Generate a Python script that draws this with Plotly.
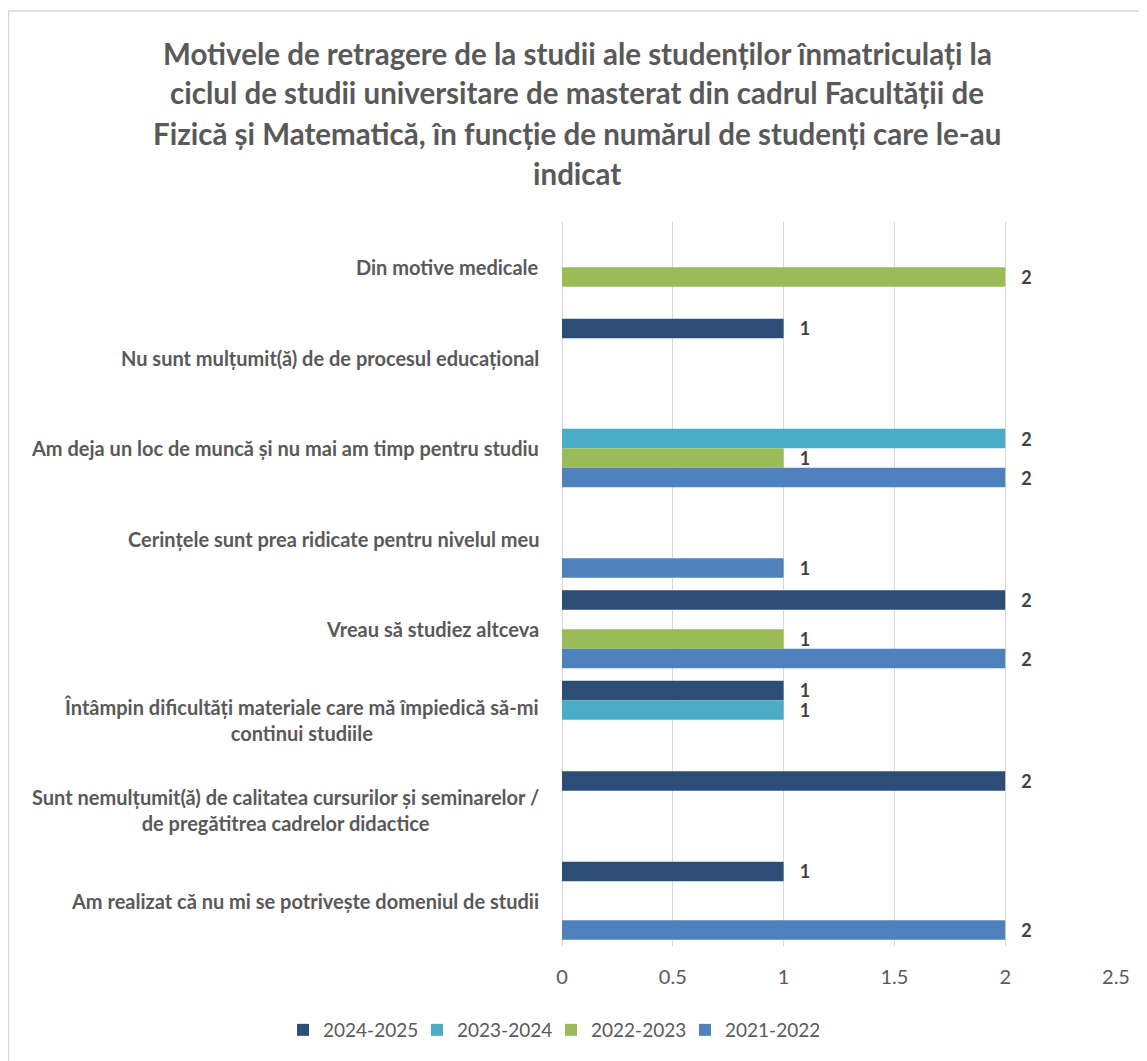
import plotly.graph_objects as go

categories = [
    "Din motive medicale",
    "Nu sunt mulțumit(ă) de de procesul educațional",
    "Am deja un loc de muncă și nu mai am timp pentru studiu",
    "Cerințele sunt prea ridicate pentru nivelul meu",
    "Vreau să studiez altceva",
    "Întâmpin dificultăți materiale care mă împiedică să-mi<br>continui studiile",
    "Sunt nemulțumit(ă) de calitatea cursurilor și seminarelor /<br>de pregătitrea cadrelor didactice",
    "Am realizat că nu mi se potrivește domeniul de studii",
]

series_names = ["2024-2025", "2023-2024", "2022-2023", "2021-2022"]
v_2024_2025 = [0, 1, 0, 0, 2, 1, 2, 1]
v_2023_2024 = [0, 0, 2, 0, 0, 1, 0, 0]
v_2022_2023 = [2, 0, 1, 0, 1, 0, 0, 0]
v_2021_2022 = [0, 0, 2, 1, 2, 0, 0, 2]

x_ticks = [0, 0.5, 1, 1.5, 2, 2.5]

colors = ["#2C4D75", "#4BACC6", "#9BBB59", "#4F81BD"]
series_values = [v_2024_2025, v_2023_2024, v_2022_2023, v_2021_2022]

FONT = "Lato"
GRAY = "#595959"

# page body has an 8px margin; work in reference pixel coords and shift
OFF = 8
W, H = 1147 - OFF, 1061 - OFF
ML, MR, MT, MB = 562 - OFF, 31, 222 - OFF, 115
PW, PH = W - ML - MR, H - MT - MB


def px_x(p):
    return (p - OFF - ML) / PW


def px_y(p):
    return (H - MB - (p - OFF)) / PH


fig = go.Figure()
for name, vals, col in zip(series_names, series_values, colors):
    fig.add_trace(go.Bar(
        name=name,
        orientation="h",
        y=categories,
        x=[v if v else None for v in vals],
        text=["\u00a0\u00a0\u00a0" + str(v) if v else "" for v in vals],
        textposition="outside",
        constraintext="none",
        cliponaxis=False,
        textfont=dict(family=FONT, size=18, color="#404040", weight="bold"),
        marker=dict(color=col, line=dict(width=0)),
        hoverinfo="skip",
    ))

annotations = []
for c in categories:
    annotations.append(dict(
        xref="paper", yref="y", x=0, y=c, xanchor="right", yanchor="middle",
        xshift=-21, text="<b>" + c + "</b>", showarrow=False, align="center",
        font=dict(family=FONT, size=20, color=GRAY),
    ))

title_lines = [
    "Motivele de retragere de la studii ale studenților înmatriculați la",
    "ciclul de studii universitare de masterat din cadrul Facultății de",
    "Fizică și Matematică, în funcție de numărul de studenți care le-au",
    "indicat",
]
for i, t in enumerate(title_lines):
    annotations.append(dict(
        xref="paper", yref="paper", x=px_x(577), y=px_y(53 + 40 * i),
        xanchor="center", yanchor="middle", text="<b>" + t + "</b>",
        showarrow=False, font=dict(family=FONT, size=29.5, color=GRAY),
    ))

fig.update_layout(
    width=W, height=H,
    margin=dict(l=ML, r=MR, t=MT, b=MB, autoexpand=False),
    paper_bgcolor="white", plot_bgcolor="white",
    barmode="group", bargap=0.138, bargroupgap=0,
    font=dict(family=FONT, color=GRAY),
    showlegend=True,
    legend=dict(
        orientation="h", x=px_x(283), xanchor="left",
        y=px_y(1030), yanchor="middle",
        font=dict(family=FONT, size=19, color=GRAY), traceorder="normal",
        itemwidth=30, bgcolor="rgba(0,0,0,0)",
        entrywidth=89, entrywidthmode="pixels",
    ),
    annotations=annotations,
    shapes=[dict(
        type="rect", xref="paper", yref="paper",
        x0=px_x(8.5), x1=px_x(1200), y0=px_y(1100), y1=px_y(11),
        line=dict(color="#D9D9D9", width=1.5), fillcolor="rgba(0,0,0,0)", layer="below",
    )],
)
fig.update_xaxes(
    range=[0, 2.5], tickvals=x_ticks, ticktext=[str(t) for t in x_ticks],
    showgrid=True, gridcolor="#D9D9D9", gridwidth=1,
    zeroline=True, zerolinecolor="#D9D9D9", zerolinewidth=1,
    showline=False, ticks="", ticklabelstandoff=17,
    tickfont=dict(family=FONT, size=20, color=GRAY),
)
fig.update_yaxes(
    autorange="reversed", showticklabels=False, showgrid=False, zeroline=False,
    showline=False, ticks="",
)

fig.write_html("out.html")
